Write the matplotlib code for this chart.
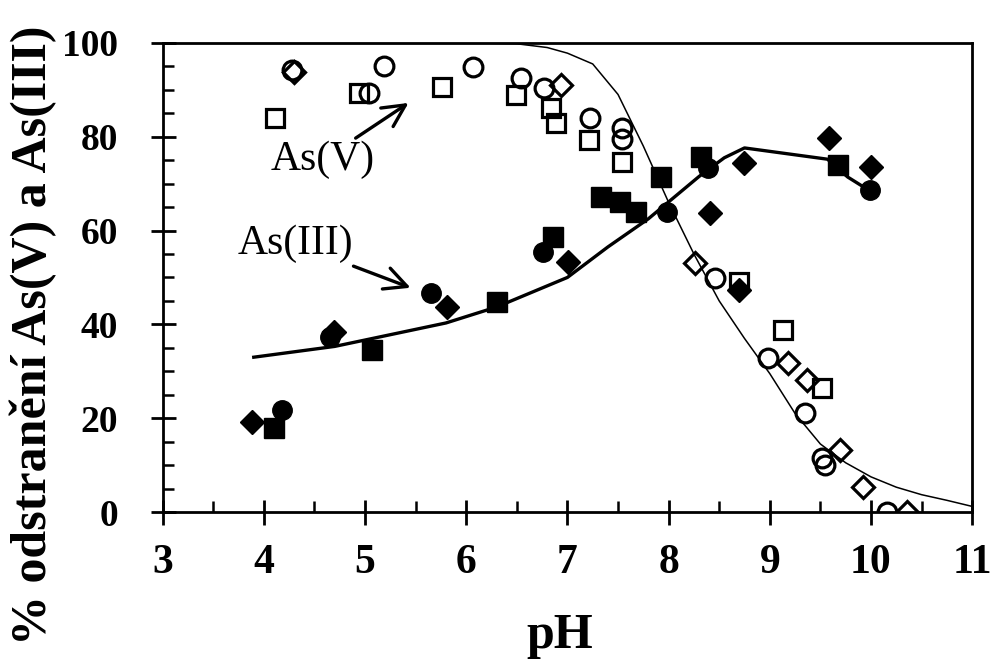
import numpy as np
import matplotlib.pyplot as plt
from matplotlib.ticker import MultipleLocator

plt.rcParams['font.family'] = ['Liberation Serif', 'DejaVu Serif']

# As(V) - open markers
v_circ_x = [4.28, 5.04, 5.19, 6.07, 6.54, 6.77, 7.22, 7.54, 7.54, 8.46, 8.98, 9.35, 9.52, 9.55, 10.16]
v_circ_y = [94.2, 89.3, 95.1, 94.9, 92.5, 90.4, 84.0, 81.9, 79.5, 49.9, 32.8, 21.1, 11.5, 10.0, 0.0]
v_sq_x = [4.11, 4.94, 5.76, 6.49, 6.84, 6.89, 7.21, 7.54, 8.70, 9.13, 9.52]
v_sq_y = [84.0, 89.3, 90.6, 88.9, 86.1, 82.9, 79.3, 74.6, 49.0, 38.8, 26.4]
v_dia_x = [4.30, 6.94, 8.26, 9.18, 9.37, 9.69, 9.92, 10.36]
v_dia_y = [93.8, 91.0, 53.1, 31.7, 28.1, 13.2, 5.3, 0.0]

# As(III) - filled markers
iii_dia_x = [3.88, 4.69, 5.81, 7.01, 8.41, 8.70, 8.75, 9.59, 10.00]
iii_dia_y = [19.2, 38.4, 43.7, 53.3, 63.7, 47.3, 74.4, 79.7, 73.6]
iii_sq_x = [4.10, 5.07, 6.30, 6.86, 7.33, 7.52, 7.68, 7.92, 8.32, 9.67]
iii_sq_y = [17.9, 34.5, 44.8, 58.6, 67.2, 66.1, 64.0, 71.4, 75.7, 74.0]
iii_circ_x = [4.18, 4.65, 5.65, 6.76, 7.98, 8.39, 9.99]
iii_circ_y = [21.7, 37.3, 46.7, 55.4, 64.0, 73.3, 68.7]

# model curves
v_fit_x = [4.0, 6.0, 6.5, 6.8, 7.0, 7.25, 7.5, 7.75, 8.0, 8.25, 8.5, 8.75, 9.0, 9.25, 9.5, 9.75, 10.0, 10.25, 10.5, 10.75, 11.0]
v_fit_y = [100, 100, 99.8, 99, 97.8, 95.5, 89, 78, 66, 55, 45, 37, 29.5, 21, 14.5, 10.5, 7.5, 5.3, 3.7, 2.5, 1.2]
iii_fit_x = [3.9, 4.7, 5.8, 6.3, 7.0, 7.4, 7.8, 8.3, 8.55, 8.75, 9.57, 9.77, 9.97]
iii_fit_y = [33, 35.3, 40.3, 43.7, 50, 56.5, 62.5, 71.5, 75.5, 77.6, 75.2, 71.4, 68.7]

fig = plt.figure(figsize=(9.92, 6.59), dpi=100)
ax = fig.add_axes([0.164, 0.223, 0.816, 0.712])

ax.plot(v_fit_x, v_fit_y, color='black', lw=1.1)
ax.plot(iii_fit_x, iii_fit_y, color='black', lw=2.4)

ax.plot(v_circ_x, v_circ_y, 'o', ms=13.5, mfc='none', mec='black', mew=2.3)
ax.plot(v_sq_x, v_sq_y, 's', ms=12.5, mfc='none', mec='black', mew=2.3)
ax.plot(v_dia_x, v_dia_y, 'D', ms=11, mfc='none', mec='black', mew=2.3)
ax.plot(iii_circ_x, iii_circ_y, 'o', ms=14, color='black')
ax.plot(iii_sq_x, iii_sq_y, 's', ms=14, color='black')
ax.plot(iii_dia_x, iii_dia_y, 'D', ms=12.5, color='black')

ax.annotate('As(V)', xy=(5.43, 87.2), xytext=(4.58, 75.0), fontsize=30,
            ha='center', va='center',
            arrowprops=dict(arrowstyle='->', color='black', lw=2.4,
                            mutation_scale=40, shrinkA=0, shrinkB=0))
ax.annotate('As(III)', xy=(5.45, 47.8), xytext=(4.31, 57.1), fontsize=30,
            ha='center', va='center',
            arrowprops=dict(arrowstyle='->', color='black', lw=2.4,
                            mutation_scale=40, shrinkA=0, shrinkB=0))

ax.set_xlim(3, 11)
ax.set_ylim(0, 100)
ax.xaxis.set_major_locator(MultipleLocator(1))
ax.xaxis.set_minor_locator(MultipleLocator(0.5))
ax.yaxis.set_major_locator(MultipleLocator(20))
ax.yaxis.set_minor_locator(MultipleLocator(5))
ax.tick_params(which='major', direction='inout', length=18, width=2,
               labelsize=30, top=False, right=False, pad=14)
ax.tick_params(axis='y', which='major', pad=23, labelsize=27)
ax.tick_params(which='minor', direction='in', length=8, width=1.8,
               top=False, right=False)
for lab in ax.get_xticklabels() + ax.get_yticklabels():
    lab.set_fontweight('bold')
for s in ax.spines.values():
    s.set_linewidth(2)

ax.set_xlabel('pH', fontsize=36, fontweight='bold', va='top')
ax.xaxis.set_label_coords(0.49, -0.215)
fig.text(33 / 992, 1 - 335 / 659, '% odstranění As(V) a As(III)', fontsize=36,
         fontweight='bold', rotation=90, ha='center', va='center')

fig.savefig('out.png', dpi=100)
